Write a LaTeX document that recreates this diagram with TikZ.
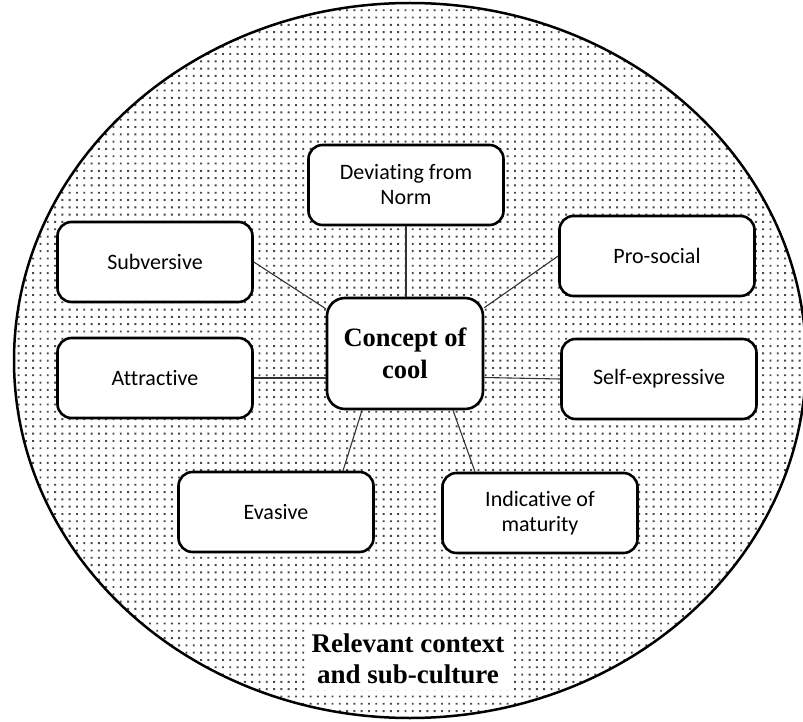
\documentclass[tikz,border=0pt]{standalone}
\usepackage{fontspec}
\setmainfont{Liberation Serif}
\newfontfamily\calib[Ligatures={NoCommon}]{Carlito}
\usetikzlibrary{calc}
\begin{document}
\begin{tikzpicture}[x=1pt,y=-1pt,
  box/.style={draw,line width=2.6pt,rounded corners=14pt,fill=white,
    minimum width=195pt,minimum height=80pt,
    font=\calib\fontsize{22}{25}\selectfont,align=center,inner sep=0pt},
  link/.style={line width=1.1pt,draw=black!80},
  dotfill/.style={fill=black!72}]
\useasboundingbox (0,0) rectangle (803,722);
\begin{scope}
\clip (0,0) rectangle (803,722);
\begin{scope}
\clip (410,360.5) ellipse [x radius=396, y radius=357.5];
\foreach \i in {0,...,109}{
  \fill[dotfill] \foreach \j in {0,...,98}{
    ({\i*7.3+3},{\j*7.3+2}) rectangle +(1.9,1.9) };
}
\end{scope}
\draw[line width=2.5pt] (410,360.5) ellipse [x radius=396, y radius=357.5];
\end{scope}

\node[box] (dev) at (406,185) {Deviating from\\Norm};
\node[box] (sub) at (155,262) {Subversive};
\node[box] (pro) at (657,256) {Pro-social};
\node[box] (att) at (155,378) {Attractive};
\node[box] (self) at (659,379) {Self-expressive};
\node[box] (eva) at (276,512) {Evasive};
\node[box] (ind) at (540,513) {Indicative of\\maturity};
\node[box,minimum width=156pt,minimum height=111pt,rounded corners=18pt,
  font=\bfseries\fontsize{26.5}{32}\selectfont] (cc) at (405,353.5) {Concept of\\cool};

\draw[link] (dev.south) -- (dev.south |- cc.north);
\draw[link] (sub.east) -- ($(cc.north west)+(0,12)$);
\draw[link] (pro.west) -- ($(cc.north east)+(0,11)$);
\draw[link] (att.east) -- (att.east -| cc.west);
\draw[link] (self.west) -- ($(cc.east)+(0,24)$);
\draw[link] ($(eva.north)+(67,0)$) -- ($(cc.south)+(-43,0)$);
\draw[link] ($(ind.north)+(-65,0)$) -- ($(cc.south)+(48,0)$);

\node[fill=white,font=\bfseries\fontsize{27}{31}\selectfont,align=center,
  inner xsep=7pt,inner ysep=6pt] (ctx) at (408,659) {Relevant context\\and sub-culture};
\end{tikzpicture}
\end{document}
